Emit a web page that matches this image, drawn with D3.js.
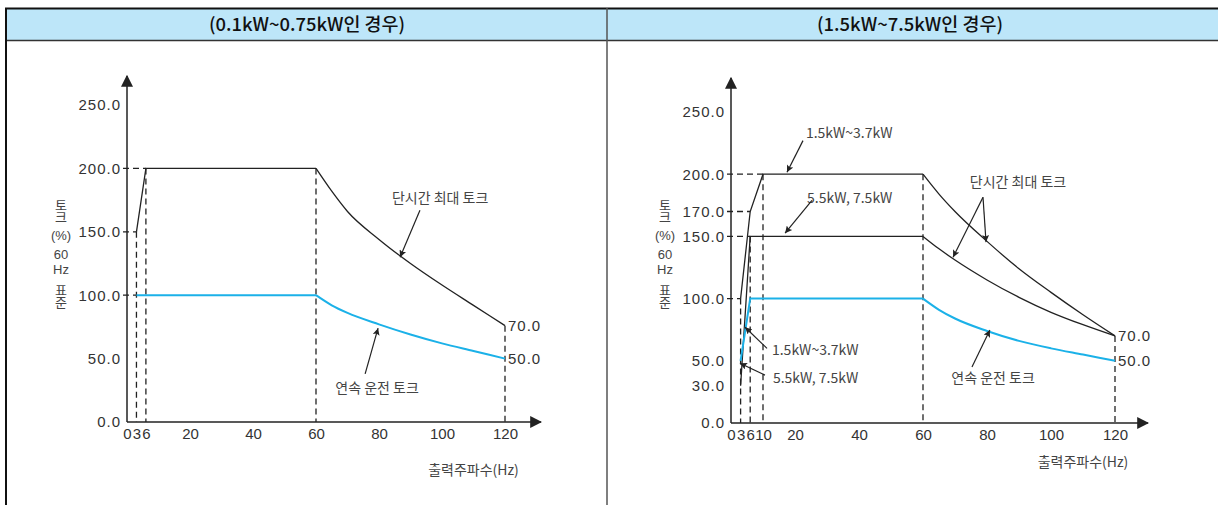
<!DOCTYPE html>
<html>
<head>
<meta charset="utf-8">
<script src="https://cdn.jsdelivr.net/npm/d3@7"></script>
<style>
  body { margin: 0; background: #fff; }
  svg text { font-family: "Noto Sans CJK KR", "Noto Sans", sans-serif; fill: #333; }
  .num { font-family: "Liberation Sans", Arial, sans-serif; letter-spacing: 1px; }
</style>
</head>
<body>
<svg width="1218" height="505"></svg>
<script>
// ---- data ----
var titles = ["(0.1kW~0.75kW인 경우)", "(1.5kW~7.5kW인 경우)"];

// left panel (0.1kW~0.75kW)
var leftTicksX = [0, 3, 6, 20, 40, 60, 80, 100, 120];
var leftTicksY = [0, 50, 100, 150, 200, 250];
var leftMaxF = [3, 6, 60, 65, 70, 80, 90, 100, 110, 120];
var leftMaxT = [150, 200, 200, 182, 166, 144, 125, 108, 92, 76];
var leftContF = [3, 60, 65, 70, 80, 90, 100, 110, 120];
var leftContT = [100, 100, 92, 86, 77, 69, 62, 56, 50];

// right panel (1.5kW~7.5kW)
var rightTicksX = [0, 3, 6, 10, 20, 40, 60, 80, 100, 120];
var rightTicksY = [0, 30, 50, 100, 150, 170, 200, 250];
var rightMax1F = [3, 6, 10, 60, 65, 70, 80, 90, 100, 110, 120];
var rightMax1T = [100, 170, 200, 200, 184, 170, 146, 124, 105, 87, 70];
var rightMax2F = [3, 6, 60, 65, 70, 80, 90, 100, 110, 120];
var rightMax2T = [30, 150, 150, 140, 131, 115, 101, 89, 79, 70];
var rightContF = [3, 6, 60, 65, 70, 80, 90, 100, 110, 120];
var rightContT = [50, 100, 100, 91, 84, 74, 66, 60, 55, 50];

var endLabels = ["70.0", "50.0"];

var svg = d3.select("svg");
var blue = "#1bb1e8";
var ink = "#222";

// ---- table frame ----
svg.append("rect").attr("x", 7).attr("y", 9).attr("width", 1211).attr("height", 31)
    .attr("fill", "#bde6f9");
svg.append("line").attr("x1", 5).attr("x2", 1218).attr("y1", 8.5).attr("y2", 8.5)
    .attr("stroke", "#111").attr("stroke-width", 2);
svg.append("line").attr("x1", 5).attr("x2", 1218).attr("y1", 40.5).attr("y2", 40.5)
    .attr("stroke", "#333").attr("stroke-width", 1.5);
svg.append("line").attr("x1", 6).attr("x2", 6).attr("y1", 8).attr("y2", 505)
    .attr("stroke", "#111").attr("stroke-width", 2);
svg.append("line").attr("x1", 607).attr("x2", 607).attr("y1", 8).attr("y2", 505)
    .attr("stroke", "#555").attr("stroke-width", 1.5);

svg.selectAll("text.title")
    .data(titles)
    .enter().append("text")
    .attr("class", "title")
    .attr("x", function (d, i) { return i == 0 ? 307 : 910; })
    .attr("y", 31)
    .attr("text-anchor", "middle")
    .attr("font-size", 18)
    .attr("font-weight", 500)
    .attr("textLength", function (d, i) { return i == 0 ? 196 : 186; })
    .attr("lengthAdjust", "spacingAndGlyphs")
    .style("fill", "#111")
    .text(function (d) { return d; });

// arrow heads
var defs = svg.append("defs");
defs.append("marker").attr("id", "axisArrow")
    .attr("viewBox", "0 0 10 10").attr("refX", 9).attr("refY", 5)
    .attr("markerWidth", 12).attr("markerHeight", 12).attr("markerUnits", "userSpaceOnUse")
    .attr("orient", "auto")
    .append("path").attr("d", "M0,0 L10,5 L0,10 Z").attr("fill", ink);
defs.append("marker").attr("id", "noteArrow")
    .attr("viewBox", "0 0 10 10").attr("refX", 10).attr("refY", 5)
    .attr("markerWidth", 12).attr("markerHeight", 7).attr("markerUnits", "userSpaceOnUse")
    .attr("orient", "auto")
    .append("path").attr("d", "M0,0 L10,5 L0,10 L2,5 Z").attr("fill", ink);

function panel(opt) {
    var x = d3.scaleLinear().domain([0, 120]).range(opt.xr);
    var y = d3.scaleLinear().domain([0, 250]).range(opt.yr);
    var g = svg.append("g");

    // dashed guides
    opt.vGuides.forEach(function (d) {
        g.append("line")
            .attr("x1", x(d[0])).attr("x2", x(d[0]))
            .attr("y1", y(d[1])).attr("y2", y(0))
            .attr("stroke", ink).attr("stroke-width", 1.3).attr("stroke-dasharray", "6,4");
    });
    opt.hGuides.forEach(function (d) {
        g.append("line")
            .attr("x1", x(0) - 4).attr("x2", x(d[0]))
            .attr("y1", y(d[1])).attr("y2", y(d[1]))
            .attr("stroke", ink).attr("stroke-width", 1.3).attr("stroke-dasharray", "6,4");
    });

    // axes with arrows
    g.append("line")
        .attr("x1", x(0)).attr("x2", x(0)).attr("y1", y(0)).attr("y2", opt.yTop)
        .attr("stroke", ink).attr("stroke-width", 1.5).attr("marker-end", "url(#axisArrow)");
    g.append("line")
        .attr("x1", x(0)).attr("x2", opt.xEnd).attr("y1", y(0)).attr("y2", y(0))
        .attr("stroke", ink).attr("stroke-width", 1.5).attr("marker-end", "url(#axisArrow)");

    var ya = g.append("g").attr("transform", "translate(" + x(0) + ",0)")
        .call(d3.axisLeft(y).tickValues(opt.ticksY).tickSize(0).tickPadding(6)
            .tickFormat(d3.format(".1f")));
    ya.select(".domain").remove();
    ya.selectAll("text").attr("class", "num").attr("font-size", 15).style("fill", "#333");

    var xa = g.append("g").attr("transform", "translate(0," + y(0) + ")")
        .call(d3.axisBottom(x).tickValues(opt.ticksX).tickSize(0).tickPadding(6));
    xa.select(".domain").remove();
    xa.selectAll("text").attr("class", "num").attr("font-size", 15)
        .style("letter-spacing", "0px").style("fill", "#333");

    // series: straight ramp + flat, then curved fall-off past 60 Hz
    var lineLin = d3.line().x(function (d) { return x(d[0]); }).y(function (d) { return y(d[1]); });
    var lineCurve = d3.line().curve(d3.curveMonotoneX)
        .x(function (d) { return x(d[0]); }).y(function (d) { return y(d[1]); });
    opt.series.forEach(function (s) {
        var pts = s.f.map(function (f, i) { return [f, s.t[i]]; });
        var k = s.f.indexOf(60);
        g.append("path").attr("d", lineLin(pts.slice(0, k + 1)))
            .attr("fill", "none").attr("stroke", s.color).attr("stroke-width", s.w);
        g.append("path").attr("d", lineCurve(pts.slice(k)))
            .attr("fill", "none").attr("stroke", s.color).attr("stroke-width", s.w);
    });

    // end labels
    opt.ends.forEach(function (d, i) {
        g.append("text").attr("class", "num")
            .attr("x", x(120) + 3).attr("y", y(d))
            .attr("dy", "0.35em").attr("font-size", 15)
            .text(endLabels[i]);
    });

    // notes
    opt.notes.forEach(function (n) {
        g.append("text")
            .attr("x", x(n.at[0])).attr("y", y(n.at[1]))
            .attr("dy", "0.35em")
            .attr("text-anchor", n.anchor || "start")
            .attr("font-size", 14)
            .style("fill", "#444")
            .text(n.text);
        n.arrows.forEach(function (a) {
            g.append("line")
                .attr("x1", x(a[0])).attr("y1", y(a[1]))
                .attr("x2", x(a[2])).attr("y2", y(a[3]))
                .attr("stroke", ink).attr("stroke-width", 1.2)
                .attr("marker-end", "url(#noteArrow)");
        });
    });

    // stacked y title: vertical words + short horizontal bits
    var tx = x(0) - 66;
    [["토크", 199, true], ["(%)", 240, false], ["60", 259, false], ["Hz", 274, false], ["표준", 284, true]]
        .forEach(function (p) {
            var t = g.append("text")
                .attr("font-size", 13)
                .style("fill", "#444")
                .text(p[0]);
            if (p[2]) {
                t.attr("x", tx).attr("y", p[1])
                    .style("writing-mode", "vertical-rl")
                    .style("text-orientation", "upright")
                    .attr("letter-spacing", "-1px");
            } else {
                t.attr("x", tx).attr("y", p[1]).attr("text-anchor", "middle")
                    .attr("font-size", 13)
                    .style("font-family", "'Liberation Sans', Arial, sans-serif");
            }
        });

    g.append("text")
        .attr("x", x(110)).attr("y", opt.xLabelY)
        .attr("text-anchor", "middle").attr("font-size", 14)
        .style("fill", "#444")
        .text("출력주파수(Hz)");
}

panel({
    xr: [127, 505], yr: [422, 105], yTop: 76, xEnd: 541, xLabelY: 475,
    ticksX: leftTicksX, ticksY: leftTicksY,
    vGuides: [[3, 150], [6, 200], [60, 200], [120, 76]],
    hGuides: [[6, 200], [3, 150], [3, 100]],
    series: [
        { f: leftMaxF, t: leftMaxT, color: ink, w: 1.3 },
        { f: leftContF, t: leftContT, color: blue, w: 2 }
    ],
    ends: [76, 50],
    notes: [
        { text: "단시간 최대 토크", at: [99.4, 176.7], anchor: "middle", arrows: [[93, 167, 86.7, 130]] },
        { text: "연속 운전 토크", at: [79.4, 26.8], anchor: "middle", arrows: [[75.6, 37.9, 79.7, 74]] }
    ]
});

panel({
    xr: [731, 1115], yr: [423, 112], yTop: 78, xEnd: 1148, xLabelY: 467,
    ticksX: rightTicksX, ticksY: rightTicksY,
    vGuides: [[3, 100], [6, 150], [10, 200], [60, 200], [120, 70]],
    hGuides: [[10, 200], [6, 170], [6, 150], [3, 100]],
    series: [
        { f: rightMax1F, t: rightMax1T, color: ink, w: 1.3 },
        { f: rightMax2F, t: rightMax2T, color: ink, w: 1.3 },
        { f: rightContF, t: rightContT, color: blue, w: 2 }
    ],
    ends: [70, 50],
    notes: [
        { text: "1.5kW~3.7kW", at: [23.4, 233], arrows: [[22.5, 227, 17.5, 201.6]] },
        { text: "5.5kW, 7.5kW", at: [23.75, 180.7], arrows: [[25.3, 179, 16.9, 152.6]] },
        { text: "1.5kW~3.7kW", at: [12.8, 58.6], arrows: [[11.25, 60, 4.4, 77]] },
        { text: "5.5kW, 7.5kW", at: [13.1, 36], arrows: [[10.6, 38.5, 2.8, 48]] },
        { text: "단시간 최대 토크", at: [89.7, 193.6], anchor: "middle",
          arrows: [[78.75, 181.5, 79.7, 145.4], [78.75, 181.5, 69.4, 133.3]] },
        { text: "연속 운전 토크", at: [81.9, 36], anchor: "middle", arrows: [[75.3, 45, 80.9, 74.7]] }
    ]
});
</script>
</body>
</html>
